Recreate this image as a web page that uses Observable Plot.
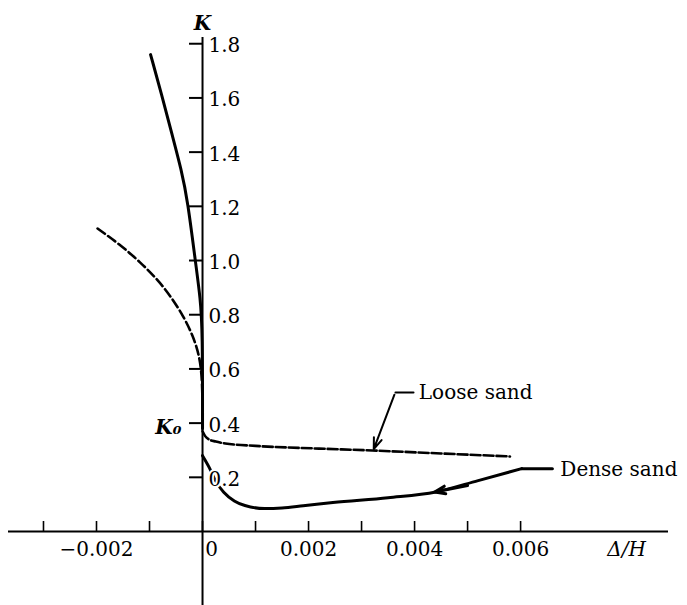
<!DOCTYPE html>
<html>
<head>
<meta charset="utf-8">
<script src="https://cdn.jsdelivr.net/npm/d3@7"></script>
<script src="https://cdn.jsdelivr.net/npm/@observablehq/plot@0.6"></script>
<style>
  html, body { margin: 0; padding: 0; background: #fff; }
  svg { display: block; }
</style>
</head>
<body>
<div id="chart"></div>
<script>
// ---- data ----
const xTicks = [-0.003, -0.002, -0.001, 0, 0.001, 0.002, 0.003, 0.004, 0.005, 0.006];
const xTickLabels = [-0.002, 0.002, 0.004, 0.006];
const yTicks = [0.2, 0.4, 0.6, 0.8, 1.0, 1.2, 1.4, 1.6, 1.8];

// Dense sand (solid) – passive branch (Δ/H < 0)
const densePassiveX = [-0.00098, -0.00077, -0.00057, -0.00040, -0.00028, -0.00013, -0.00004, 0, 0];
const densePassiveK = [1.760, 1.612, 1.461, 1.335, 1.221, 0.989, 0.860, 0.74, 0.38];
// Dense sand – active branch (Δ/H > 0)
const denseActiveX = [0, 0.00013, 0.00025, 0.0004, 0.0006, 0.0008, 0.00117, 0.0015, 0.0019, 0.00246, 0.0035, 0.0044, 0.0052, 0.00602];
const denseActiveK = [0.28, 0.235, 0.185, 0.145, 0.113, 0.096, 0.085, 0.087, 0.095, 0.107, 0.125, 0.146, 0.188, 0.232];

// Loose sand (dashed) – passive branch
const loosePassiveX = [-0.00198, -0.00155, -0.00117, -0.00085, -0.00060, -0.00036, -0.00018, -0.00006, 0, 0];
const loosePassiveK = [1.118, 1.058, 0.993, 0.930, 0.868, 0.795, 0.722, 0.650, 0.56, 0.38];
// Loose sand – active branch
const looseActiveX = [0, 0.00005, 0.00012, 0.00025, 0.00043, 0.001, 0.0022, 0.0032, 0.0045, 0.0058];
const looseActiveK = [0.37, 0.352, 0.340, 0.332, 0.325, 0.316, 0.306, 0.299, 0.288, 0.277];

// annotation anchors (data units)
const looseLabel = {x: 0.00408, k: 0.513, text: "Loose sand"};
const looseLeader = [{x: 0.00398, k: 0.513}, {x: 0.00364, k: 0.513}];
const looseArrow = [{x1: 0.00362, y1: 0.505, x2: 0.00323, y2: 0.304}];
const denseLabel = {x: 0.00675, k: 0.229, text: "Dense sand"};
const denseLeader = [{x: 0.00602, k: 0.232}, {x: 0.0066, k: 0.232}];
const denseArrow = [{x1: 0.0050, y1: 0.170, x2: 0.00438, y2: 0.146}];

const zip = (xs, ks) => xs.map((x, i) => ({x, k: ks[i]}));
const densePassive = zip(densePassiveX, densePassiveK);
const denseActive = zip(denseActiveX, denseActiveK);
const loosePassive = zip(loosePassiveX, loosePassiveK);
const looseActive = zip(looseActiveX, looseActiveK);

const pxPerK = 271, pxPerX = 53000;
const xTickLen = 10 / pxPerK;   // tick lengths expressed via the scale ratio
const yTickLen = 13 / pxPerX;

const font = "DejaVu Serif";

const chart = Plot.plot({
  width: 687,
  height: 605,
  marginLeft: 8,
  marginRight: 19,
  marginTop: 37,
  marginBottom: 0,
  x: {domain: [-0.00366, 0.00879], axis: null},
  y: {domain: [-0.273, 1.823], axis: null},
  style: {fontFamily: font, fontSize: "20px", background: "white", color: "black"},
  marks: [
    // axes
    Plot.ruleX([0], {stroke: "black", strokeWidth: 2}),
    Plot.ruleY([0], {stroke: "black", strokeWidth: 2}),
    // tick marks
    Plot.ruleX(xTicks, {x: d => d, y1: 0, y2: xTickLen, stroke: "black", strokeWidth: 1.6}),
    Plot.ruleY(yTicks, {y: d => d, x1: -yTickLen, x2: 0, stroke: "black", strokeWidth: 2}),
    // curves
    Plot.line(densePassive, {x: "x", y: "k", stroke: "black", strokeWidth: 3, curve: "basis"}),
    Plot.line(denseActive, {x: "x", y: "k", stroke: "black", strokeWidth: 3, curve: "monotone-x"}),
    Plot.line(loosePassive, {x: "x", y: "k", stroke: "black", strokeWidth: 2.6, strokeDasharray: "9,4", curve: "basis"}),
    Plot.line(looseActive, {x: "x", y: "k", stroke: "black", strokeWidth: 2.6, strokeDasharray: "10,3", curve: "monotone-x"}),
    // leaders & arrows
    Plot.line(looseLeader, {x: "x", y: "k", stroke: "black", strokeWidth: 2}),
    Plot.arrow(looseArrow, {x1: "x1", y1: "y1", x2: "x2", y2: "y2", stroke: "black", strokeWidth: 2, headLength: 9, headAngle: 40}),
    Plot.line(denseLeader, {x: "x", y: "k", stroke: "black", strokeWidth: 3}),
    Plot.arrow(denseArrow, {x1: "x1", y1: "y1", x2: "x2", y2: "y2", stroke: "black", strokeWidth: 3, headLength: 8, headAngle: 40}),
    // tick labels
    Plot.text(xTickLabels, {x: d => d, y: 0, dy: 18, text: d => (d < 0 ? "\u2212" : "") + Math.abs(d).toFixed(3), fill: "black"}),
    Plot.text([0], {x: 0, y: 0, dy: 18, dx: 9, text: d => "0", fill: "black"}),
    Plot.text(yTicks, {x: 0, y: d => d, dx: 6, dy: 2, textAnchor: "start", text: d => d.toFixed(1), fill: "black", stroke: "white", strokeWidth: 4, paintOrder: "stroke"}),
    // axis titles
    Plot.text(["K"], {x: 0, y: 1.875, text: d => d, fontStyle: "italic", fontWeight: "bold", fill: "black"}),
    Plot.text(["K\u2080"], {x: -yTickLen, y: 0.384, dx: -8, textAnchor: "end", text: d => d, fontStyle: "italic", fontWeight: "bold", fill: "black"}),
    Plot.text(["\u0394/H"], {x: 0.0080, y: 0, dy: 18, text: d => d, fontStyle: "italic", fill: "black"}),
    // series labels
    Plot.text([looseLabel], {x: "x", y: "k", text: "text", textAnchor: "start", fill: "black"}),
    Plot.text([denseLabel], {x: "x", y: "k", text: "text", textAnchor: "start", fill: "black"})
  ]
});

document.getElementById("chart").appendChild(chart);
</script>
</body>
</html>
